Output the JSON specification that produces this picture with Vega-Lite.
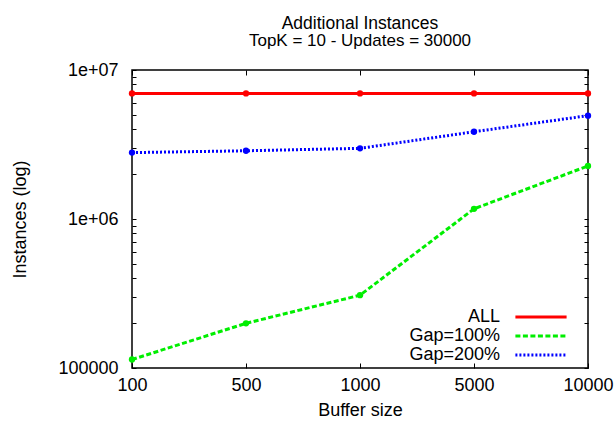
{
  "$schema": "https://vega.github.io/schema/vega-lite/v6.json",
  "width": 456,
  "height": 298,
  "autosize": "none",
  "padding": {"left": 132, "top": 70, "right": 28, "bottom": 56},
  "config": {
    "font": "Liberation Sans",
    "view": {"stroke": "black", "strokeWidth": 1.5},
    "axis": {
      "domain": false,
      "grid": false,
      "tickColor": "black",
      "tickWidth": 1,
      "labelColor": "black",
      "titleColor": "black",
      "labelFontSize": 18,
      "titleFontSize": 18,
      "titleFontWeight": "normal",
      "labelFont": "Liberation Sans",
      "titleFont": "Liberation Sans"
    }
  },
  "title": {
    "text": "Additional Instances",
    "subtitle": "TopK = 10 - Updates = 30000",
    "fontSize": 17.5,
    "subtitleFontSize": 17,
    "fontWeight": "normal",
    "color": "black",
    "subtitleColor": "black",
    "anchor": "middle",
    "offset": 12,
    "subtitlePadding": 1
  },
  "data": {
    "values": [
      {"size": "100", "series": "ALL", "value": 6960000},
      {"size": "500", "series": "ALL", "value": 6960000},
      {"size": "1000", "series": "ALL", "value": 6960000},
      {"size": "5000", "series": "ALL", "value": 6960000},
      {"size": "10000", "series": "ALL", "value": 6960000},
      {"size": "100", "series": "Gap=100%", "value": 114000},
      {"size": "500", "series": "Gap=100%", "value": 199500},
      {"size": "1000", "series": "Gap=100%", "value": 308000},
      {"size": "5000", "series": "Gap=100%", "value": 1170000},
      {"size": "10000", "series": "Gap=100%", "value": 2270000},
      {"size": "100", "series": "Gap=200%", "value": 2790000},
      {"size": "500", "series": "Gap=200%", "value": 2870000},
      {"size": "1000", "series": "Gap=200%", "value": 2980000},
      {"size": "5000", "series": "Gap=200%", "value": 3850000},
      {"size": "10000", "series": "Gap=200%", "value": 4940000}
    ]
  },
  "layer": [
    {
      "mark": {"type": "line", "strokeWidth": 3, "point": {"filled": true, "size": 40}},
      "encoding": {
        "x": {
          "field": "size", "type": "ordinal",
          "sort": ["100", "500", "1000", "5000", "10000"],
          "scale": {"type": "point", "padding": 0},
          "axis": {"title": "Buffer size", "labelAngle": 0, "tickSize": -5, "labelPadding": 13, "titlePadding": 7}
        },
        "y": {
          "field": "value", "type": "quantitative",
          "scale": {"type": "log", "domain": [100000, 10000000], "nice": false},
          "axis": {
            "title": "Instances (log)",
            "values": [100000, 200000, 300000, 400000, 500000, 600000, 700000, 800000, 900000, 1000000, 2000000, 3000000, 4000000, 5000000, 6000000, 7000000, 8000000, 9000000, 10000000],
            "labelExpr": "datum.value == 10000000 ? '1e+07' : datum.value == 1000000 ? '1e+06' : datum.value == 100000 ? '100000' : ''",
            "tickSize": -4,
            "labelPadding": 18,
            "titlePadding": 28
          }
        },
        "color": {
          "field": "series", "type": "nominal",
          "scale": {"domain": ["ALL", "Gap=100%", "Gap=200%"], "range": ["#ff0000", "#00ee00", "#0000ff"]},
          "legend": {
            "title": null,
            "orient": "none",
            "legendX": 400,
            "legendY": 238,
            "symbolType": "M-6.4,0H6.4",
            "symbolSize": 64,
            "symbolStrokeWidth": 3,
            "labelFontSize": 18,
            "labelAlign": "right",
            "labelOffset": -50,
            "labelColor": "black",
            "rowPadding": 1
          }
        },
        "strokeDash": {
          "field": "series", "type": "nominal",
          "scale": {"domain": ["ALL", "Gap=100%", "Gap=200%"], "range": [[1, 0], [5, 2.5], [2, 2]]},
          "legend": {
            "title": null,
            "orient": "none",
            "legendX": 400,
            "legendY": 238,
            "symbolType": "M-6.4,0H6.4",
            "symbolSize": 64,
            "symbolStrokeWidth": 3,
            "labelFontSize": 18,
            "labelAlign": "right",
            "labelOffset": -50,
            "labelColor": "black",
            "rowPadding": 1
          }
        }
      }
    },
    {
      "mark": {"type": "line", "opacity": 0},
      "encoding": {
        "x": {
          "field": "size", "type": "ordinal",
          "sort": ["100", "500", "1000", "5000", "10000"],
          "axis": {"orient": "top", "labels": false, "title": null, "tickSize": -5}
        },
        "y": {
          "field": "value", "type": "quantitative",
          "axis": {
            "orient": "right", "labels": false, "title": null, "tickSize": -4,
            "values": [100000, 200000, 300000, 400000, 500000, 600000, 700000, 800000, 900000, 1000000, 2000000, 3000000, 4000000, 5000000, 6000000, 7000000, 8000000, 9000000, 10000000]
          }
        },
        "detail": {"field": "series", "type": "nominal"}
      }
    }
  ],
  "resolve": {"axis": {"x": "independent", "y": "independent"}}
}
